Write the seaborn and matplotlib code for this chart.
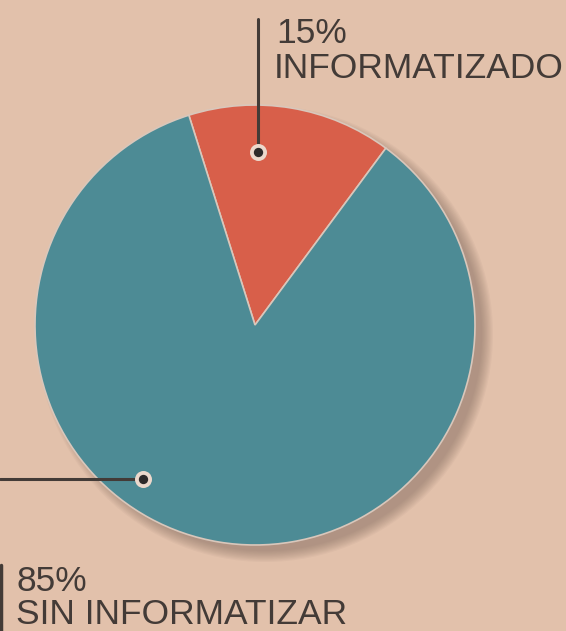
import numpy as np
import matplotlib.pyplot as plt
from matplotlib.patches import Circle
import seaborn as sns

# data
labels = ["INFORMATIZADO", "SIN INFORMATIZAR"]
shares = [15, 85]
pct_text = ["15%", "85%"]

sns.set_theme(style="white")
plt.rcParams['font.family'] = ['Liberation Sans', 'DejaVu Sans']

paper = "#e2c1ab"
teal = "#4d8b95"
red = "#d85f4a"
ink = "#433b37"

fig = plt.figure(figsize=(5.66, 6.31), dpi=100, facecolor=paper)
ax = fig.add_axes([0, 0, 1, 1])
ax.set_facecolor(paper)

cx, cy, r = 255, 306, 220

# soft shadow to the lower right
for k in range(10):
    ax.add_patch(Circle((cx + 10, cy - 9), r + 8 - k * 1.2, color="#6e5a52",
                        alpha=0.05, lw=0, zorder=1))

ax.pie(shares, colors=[red, teal], startangle=53.5, center=(cx, cy), radius=r,
       wedgeprops=dict(lw=1.2, edgecolor="#d9c7bb"), frame=True)
ax.set_xlim(0, 566)
ax.set_ylim(0, 631)
ax.set_aspect("equal")
ax.axis("off")

# leader for the red slice
ax.plot([258, 258], [479, 612], color=ink, lw=2.2, zorder=5)
ax.scatter([258], [479], s=150, color="#ecd8cc", zorder=6, lw=0)
ax.scatter([258], [479], s=45, color="#2e2a2a", zorder=7, lw=0)
ax.text(276, 588, pct_text[0], color=ink, fontsize=25.5, va="baseline", ha="left")
ax.text(274, 553, labels[0], color=ink, fontsize=25.5, va="baseline", ha="left")

# leader for the teal slice
ax.plot([0, 143], [152, 152], color=ink, lw=2.2, zorder=5)
ax.scatter([143], [152], s=150, color="#ecd8cc", zorder=6, lw=0)
ax.scatter([143], [152], s=45, color="#2e2a2a", zorder=7, lw=0)
ax.plot([1, 1], [0, 66], color=ink, lw=2.5, zorder=5)
ax.text(17, 40, pct_text[1], color=ink, fontsize=25.5, va="baseline", ha="left")
ax.text(16, 7, labels[1], color=ink, fontsize=25.5, va="baseline", ha="left")

fig.savefig("out.png", dpi=100, facecolor=paper)
